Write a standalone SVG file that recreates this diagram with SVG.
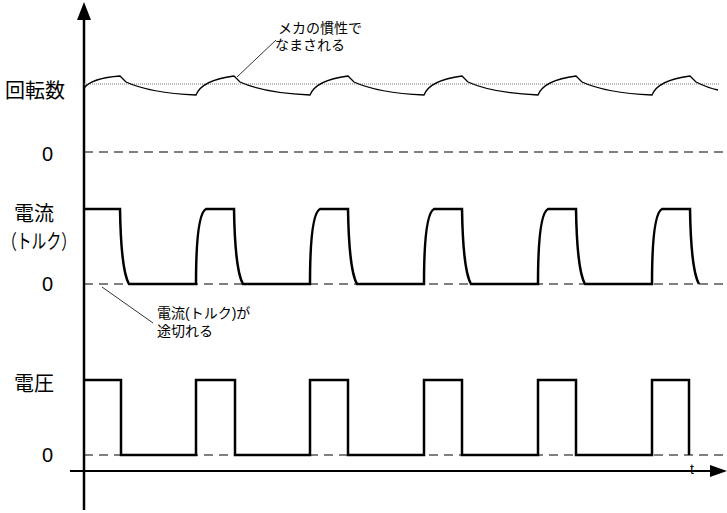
<svg xmlns="http://www.w3.org/2000/svg" width="727" height="513" viewBox="0 0 727 513">
<style>
.t{font-family:"Liberation Sans","Noto Sans CJK JP",sans-serif;fill:#000}
.big{font-size:20px}.sm{font-size:14px}
.w{fill:none;stroke:#000;stroke-width:2.5}
.d{stroke:#000;stroke-width:1.2;stroke-dasharray:9,6;fill:none}
.l{stroke:#000;stroke-width:0.8;fill:none}
</style>
<rect width="727" height="513" fill="#fff"/>
<g id="axes">
<line x1="84" y1="510" x2="84" y2="8" stroke="#000" stroke-width="2.5"/>
<path d="M84,2 L77,20 L91,20 Z" fill="#000"/>
<line x1="70" y1="471" x2="712" y2="471" stroke="#000" stroke-width="2"/>
<path d="M727,471 L710,465 L710,477 Z" fill="#000"/>
</g>
<g id="labels">
<text class="t big" x="5" y="98">回転数</text>
<text class="t big" x="42" y="161">0</text>
<text class="t big" x="14" y="221">電流</text>
<text class="t big" x="2" y="249" textLength="74" lengthAdjust="spacingAndGlyphs">（トルク）</text>
<text class="t big" x="42" y="291">0</text>
<text class="t big" x="14" y="391">電圧</text>
<text class="t big" x="42" y="462">0</text>
<text class="t" x="690" y="474" font-size="14">t</text>
</g>
<g id="connectors">
<line x1="84" y1="84" x2="720" y2="84" stroke="#777" stroke-width="1" stroke-dasharray="1,1"/>
<line class="d" x1="84" y1="152" x2="727" y2="152"/>
<line class="d" x1="84" y1="284" x2="727" y2="284"/>
<line class="d" x1="84" y1="455" x2="727" y2="455"/>
<path class="l" d="M276,40 L237,77"/>
<path class="l" d="M102,287 L153,323"/>
</g>
<g id="rpm">
<path fill="none" stroke="#000" stroke-width="1.3" d="M84,88 Q92,78 120,76 L126,82 Q150,93 196,95 Q202,80 234,76 L240,82 Q264,93 310,95 Q316,80 348,76 L354,82 Q378,93 424,95 Q430,80 462,76 L468,82 Q492,93 538,95 Q544,80 576,76 L582,82 Q606,93 652,95 Q658,80 690,76 L696,82 Q708,88 718,90"/>
</g>
<g id="current">
<path class="w" d="M84,209 L120,209 Q121,270 129,284 L196,284 Q196,214 206,209 L234,209 Q235,270 243,284 L310,284 Q310,214 320,209 L348,209 Q349,270 357,284 L424,284 Q424,214 434,209 L462,209 Q463,270 471,284 L538,284 Q538,214 548,209 L576,209 Q577,270 585,284 L652,284 Q652,214 662,209 L690,209 Q691,270 699,284"/>
</g>
<g id="voltage">
<path class="w" d="M84,380 L121,380 L121,455 L196,455 L196,380 L235,380 L235,455 L310,455 L310,380 L348,380 L348,455 L424,455 L424,380 L462,380 L462,455 L538,455 L538,380 L576,380 L576,455 L652,455 L652,380 L689,380 L689,455"/>
</g>
<g id="notes">
<text class="t sm" x="278" y="33">メカの慣性で</text>
<text class="t sm" x="275" y="50">なまされる</text>
<text class="t sm" x="157" y="318">電流(トルク)が</text>
<text class="t sm" x="157" y="336">途切れる</text>
</g>
</svg>
